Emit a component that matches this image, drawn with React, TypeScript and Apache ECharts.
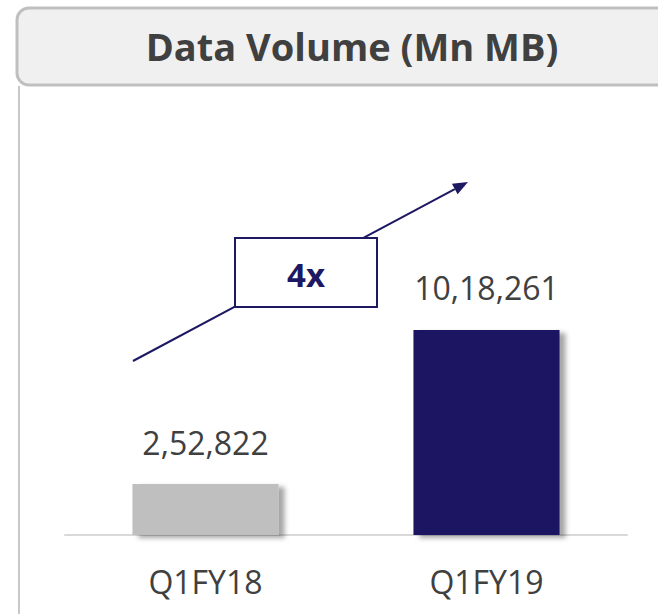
import React, { useEffect, useRef } from "react";
import * as echarts from "echarts";

const categories = ["Q1FY18", "Q1FY19"];
const dataVolume = [252822, 1018261];
const barColors = ["#bfbfbf", "#1c1862"];
const titleText = "Data Volume (Mn MB)";
const growthText = "4x";

function indianFormat(n: number): string {
  const s = String(Math.round(n));
  if (s.length <= 3) return s;
  const last3 = s.slice(-3);
  let rest = s.slice(0, -3);
  const parts: string[] = [];
  while (rest.length > 2) {
    parts.unshift(rest.slice(-2));
    rest = rest.slice(0, -2);
  }
  if (rest.length) parts.unshift(rest);
  return parts.join(",") + "," + last3;
}

export default function App() {
  const ref = useRef<HTMLDivElement>(null);
  useEffect(() => {
    if (!ref.current) return;
    const chart = echarts.init(ref.current, null, { renderer: "svg" });
    const font = "'Open Sans', 'Noto Sans', sans-serif";
    const navy = "#1c1862";

    // arrow geometry (annotation)
    const start = [133, 361];
    const tip = [468, 182];
    const dx = tip[0] - start[0];
    const dy = tip[1] - start[1];
    const len = Math.sqrt(dx * dx + dy * dy);
    const ux = dx / len;
    const uy = dy / len;
    const headLen = 15;
    const headHalf = 6;
    const base = [tip[0] - ux * headLen, tip[1] - uy * headLen];
    const nx = -uy;
    const ny = ux;

    chart.setOption({
      animation: false,
      backgroundColor: "#ffffff",
      title: {
        text: titleText,
        left: 347,
        top: 22,
        textAlign: "center",
        textStyle: {
          fontFamily: font,
          fontSize: 38,
          fontWeight: "bold",
          color: "#404040",
        },
      },
      grid: { left: 65, right: 31, top: 100, bottom: 79 },
      xAxis: {
        type: "category",
        data: categories,
        axisLine: { lineStyle: { color: "#d9d9d9", width: 2 } },
        axisTick: { show: false },
        axisLabel: {
          fontFamily: font,
          fontSize: 32,
          color: "#404040",
          margin: 30,
        },
      },
      yAxis: {
        type: "value",
        min: 0,
        max: 2160000,
        show: false,
        splitLine: { show: false },
      },
      series: [
        {
          type: "bar",
          barWidth: "52%",
          data: dataVolume.map((v, i) => ({
            value: v,
            itemStyle: { color: barColors[i] },
          })),
          itemStyle: {
            shadowColor: "rgba(0,0,0,0.35)",
            shadowBlur: 5,
            shadowOffsetX: 6,
            shadowOffsetY: 3,
          },
          label: {
            show: true,
            position: "top",
            distance: 26,
            fontFamily: font,
            fontSize: 32,
            color: "#404040",
            formatter: (p: any) => indianFormat(p.value),
          },
        },
      ],
      graphic: [
        {
          type: "rect",
          z: -1,
          shape: { x: 17, y: 8, width: 700, height: 77, r: [12, 0, 0, 12] },
          style: { fill: "#f0f0f0", stroke: "#bfbfbf", lineWidth: 3 },
        },
        {
          type: "line",
          z: -1,
          shape: { x1: 19, y1: 86, x2: 19, y2: 620 },
          style: { stroke: "#c8c8c8", lineWidth: 2 },
        },
        {
          type: "line",
          z: 10,
          shape: { x1: start[0], y1: start[1], x2: base[0], y2: base[1] },
          style: { stroke: navy, lineWidth: 2 },
        },
        {
          type: "polygon",
          z: 10,
          shape: {
            points: [
              [tip[0], tip[1]],
              [base[0] + nx * headHalf, base[1] + ny * headHalf],
              [base[0] - nx * headHalf, base[1] - ny * headHalf],
            ],
          },
          style: { fill: navy },
        },
        {
          type: "rect",
          z: 11,
          shape: { x: 235, y: 238, width: 142, height: 69 },
          style: { fill: "#ffffff", stroke: navy, lineWidth: 2 },
        },
        {
          type: "text",
          z: 12,
          x: 306,
          y: 274,
          style: {
            text: growthText,
            fontFamily: font,
            fontSize: 33,
            fontWeight: "bold",
            fill: navy,
            align: "center",
            verticalAlign: "middle",
          },
        },
      ],
    });
    return () => chart.dispose();
  }, []);
  return (
    <div
      ref={ref}
      style={{ position: "fixed", left: 0, top: 0, width: 658, height: 614 }}
    />
  );
}
